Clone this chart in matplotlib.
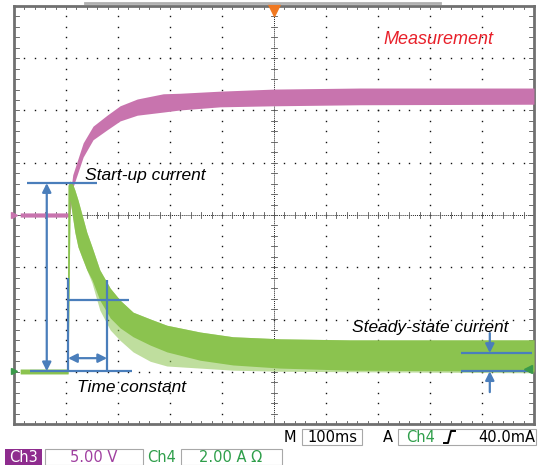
from matplotlib import pyplot as plt
from matplotlib.patches import Rectangle
import numpy as np

# time axis in ms (100 ms/div, trigger at centre), vertical in divisions
ch3_t = [-488, -396, -392, -387, -367, -348, -321, -296, -263, -213, -181, -104, 0, 165, 500]
ch3_hi = [0.04, 0.04, 0.38, 0.77, 1.38, 1.70, 1.91, 2.09, 2.22, 2.32, 2.33, 2.37, 2.41, 2.43, 2.43]
ch3_lo = [-0.04, -0.04, 0.04, 0.52, 1.11, 1.44, 1.63, 1.80, 1.91, 1.97, 2.01, 2.07, 2.09, 2.11, 2.12]

ch4_t = [-488, -398, -396, -392, -388, -383, -377, -369, -360, -350, -335, -315,
         -296, -271, -238, -206, -142, -79, 12, 146, 500]
ch4_hi = [-2.95, -2.95, 0.57, 0.65, 0.61, 0.48, 0.29, 0.00, -0.33, -0.61, -1.05, -1.40,
          -1.63, -1.86, -1.99, -2.11, -2.24, -2.33, -2.37, -2.39, -2.39]
ch4_lo = [-3.04, -3.04, -3.04, 0.29, 0.00, -0.33, -0.61, -0.82, -1.05, -1.24, -1.63, -1.97,
          -2.16, -2.33, -2.49, -2.62, -2.78, -2.87, -2.93, -2.97, -2.99]
ch4_spike = [-3.04, -3.04, -3.04, 0.29, 0.00, -0.33, -0.61, -0.82, -1.05, -1.30, -1.82, -2.20,
             -2.40, -2.62, -2.80, -2.89, -2.93, -2.97, -2.99, -3.00, -3.02]

MAGENTA = '#c874ae'
GREEN = '#8bc34f'
BLUE = '#4a7ebb'


def draw_grid(ax):
    """Scope graticule: dotted major lines, ticked centre cross"""
    dots = dict(ls='none', marker='s', ms=1.0, mew=0, color='#111', zorder=1)
    sub_y = np.arange(-4, 4.01, 0.2)
    sub_t = np.arange(-500, 501, 20)
    for t in range(-400, 401, 100):
        if t != 0:
            ax.plot([t] * len(sub_y), sub_y, **dots)
    for y in range(-3, 4):
        if y != 0:
            ax.plot(sub_t, [y] * len(sub_t), **dots)
    ax.axhline(0, ls=(0, (1, 1)), lw=0.7, color='#222', zorder=1)
    ax.axvline(0, ls=(0, (1, 1)), lw=0.7, color='#222', zorder=1)
    tick = dict(color='#555', lw=0.6, zorder=1)
    for t in sub_t:
        ax.plot([t, t], [-0.05, 0.05], **tick)
        ax.plot([t, t], [-4, -3.94], **tick)
        ax.plot([t, t], [4, 3.94], **tick)
    for y in sub_y:
        ax.plot([-5, 5], [y, y], **tick)
        ax.plot([-500, -490], [y, y], **tick)
        ax.plot([500, 490], [y, y], **tick)


def main():
    fig = plt.figure(figsize=(5.46, 4.65), dpi=100)
    ax = fig.add_axes([14 / 546, 1 - 424 / 465, 520 / 546, 418 / 465])
    ax.set_xlim(-500, 500)
    ax.set_ylim(-4, 4)
    ax.set_xticks([])
    ax.set_yticks([])
    for s in ax.spines.values():
        s.set_color('#707070')
        s.set_linewidth(2)

    draw_grid(ax)

    # traces
    ax.fill_between(ch3_t, ch3_lo, ch3_hi, color=MAGENTA, lw=0, zorder=3)
    ax.fill_between(ch4_t, ch4_spike, ch4_hi, color=GREEN, alpha=0.55, lw=0, zorder=3)
    ax.fill_between(ch4_t, ch4_lo, ch4_hi, color=GREEN, lw=0, zorder=3)

    # channel markers
    ax.plot(-500, 0, marker='>', ms=5, color=MAGENTA, clip_on=False, zorder=5)
    ax.plot(-500, -2.99, marker='>', ms=5, color='#3a9a4a', clip_on=False, zorder=5)
    ax.plot(488, -2.95, marker='<', ms=6, color='#3a9a4a', clip_on=False, zorder=5)
    ax.plot(0, 3.93, marker='v', ms=8, color='#f07820', clip_on=False, zorder=5)

    # annotations
    line = dict(color=BLUE, lw=1.6, zorder=4, solid_capstyle='butt')
    ax.plot([-475, -340], [0.61, 0.61], **line)
    ax.plot([-469, -273], [-2.99, -2.99], **line)
    ax.plot([-396, -396], [-1.21, -2.99], **line)
    ax.plot([-321, -321], [-1.24, -2.99], **line)
    ax.plot([-396, -279], [-1.63, -1.63], **line)
    ax.plot([360, 496], [-2.64, -2.64], **line)
    ax.plot([360, 496], [-2.99, -2.99], **line)

    arrow = dict(color=BLUE, lw=1.6, mutation_scale=13, shrinkA=0, shrinkB=0)
    ax.annotate('', xy=(-437, 0.61), xytext=(-437, -2.99),
                arrowprops=dict(arrowstyle='<|-|>', **arrow), zorder=4)
    ax.annotate('', xy=(-396, -2.74), xytext=(-321, -2.74),
                arrowprops=dict(arrowstyle='<|-|>', **arrow), zorder=4)
    ax.annotate('', xy=(415, -2.64), xytext=(415, -2.26),
                arrowprops=dict(arrowstyle='-|>', **arrow), zorder=4)
    ax.annotate('', xy=(415, -2.99), xytext=(415, -3.39),
                arrowprops=dict(arrowstyle='-|>', **arrow), zorder=4)

    txt = dict(family='Liberation Sans', style='italic', fontsize=12.5, va='center', zorder=6)
    ax.text(-363, 0.75, 'Start-up current', **txt)
    ax.text(-379, -3.31, 'Time constant', **txt)
    ax.text(150, -2.16, 'Steady-state current', **txt)
    ax.text(210, 3.35, 'Measurement', color='#e8202a',
            **{**txt, 'fontsize': 13})

    # status bar in pixel coordinates
    sb = fig.add_axes([0, 0, 1, 1])
    sb.set_xlim(0, 546)
    sb.set_ylim(465, 0)
    sb.axis('off')
    sb.plot([85, 440], [3.5, 3.5], color='#b0b0b0', lw=2)

    st = dict(family='DejaVu Sans', fontsize=10.5, va='center')
    box = dict(fill=False, edgecolor='#a8a8a8', lw=0.8)
    sb.text(290, 437, 'M', ha='center', **st)
    sb.add_patch(Rectangle((302, 429), 60, 16, **box))
    sb.text(332, 437, '100ms', ha='center', **st)
    sb.text(388, 437, 'A', ha='center', **st)
    sb.add_patch(Rectangle((398, 429), 138, 16, **box))
    sb.text(421, 437, 'Ch4', ha='center', color='#2e9e4a', **st)
    sb.plot([444, 448, 451, 455], [443, 443, 431, 431], color='k', lw=1.4)
    sb.text(535, 437, '40.0mA', ha='right', **st)

    sb.add_patch(Rectangle((5, 449), 37, 16, facecolor='#8e2c8e', lw=0))
    sb.text(23.5, 457, 'Ch3', ha='center', color='white', **st)
    sb.add_patch(Rectangle((45, 449), 98, 16, **box))
    sb.text(94, 457, '5.00 V', ha='center', color='#a040a0', **st)
    sb.text(162, 457, 'Ch4', ha='center', color='#2e9e4a', **st)
    sb.add_patch(Rectangle((181, 449), 101, 16, **box))
    sb.text(231, 457, '2.00 A Ω', ha='center', color='#2e9e4a', **st)

    fig.savefig('out.png', dpi=100)


if __name__ == '__main__':
    main()
